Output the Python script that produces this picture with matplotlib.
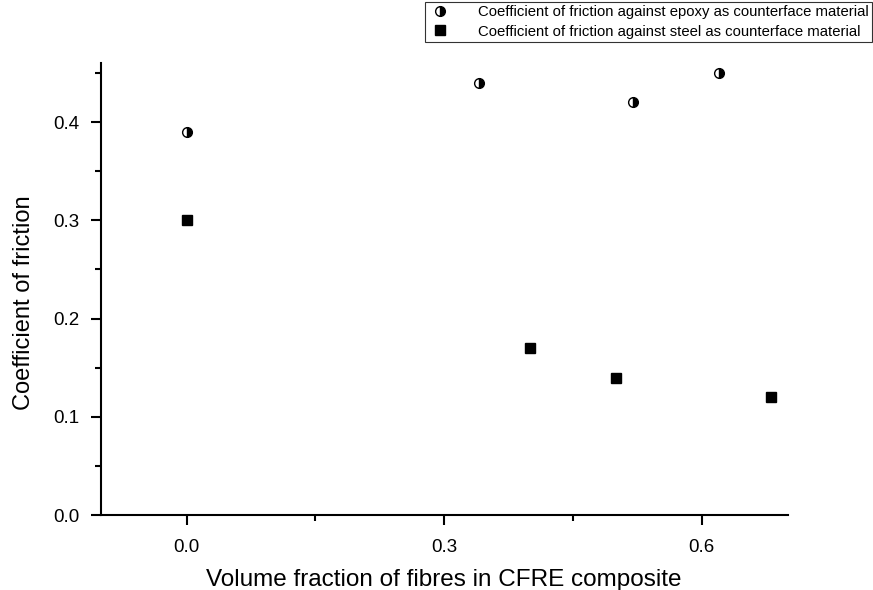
import matplotlib
matplotlib.use("Agg")
import matplotlib.pyplot as plt
from matplotlib.ticker import MultipleLocator

plt.rcParams['font.family'] = ['Liberation Sans', 'DejaVu Sans']

# volume fraction of fibres
epoxy_x = [0.0, 0.34, 0.52, 0.62]
epoxy_mu = [0.39, 0.44, 0.42, 0.45]
steel_x = [0.0, 0.40, 0.50, 0.68]
steel_mu = [0.30, 0.17, 0.14, 0.12]

fig = plt.figure(figsize=(8.73, 5.90), dpi=100)
ax = fig.add_axes([0.1153, 0.127, 0.787, 0.766])

ax.plot(epoxy_x, epoxy_mu, linestyle='none', marker='o', markersize=7,
        fillstyle='right', color='black', markerfacecoloralt='white',
        markeredgewidth=1.0,
        label='Coefficient of friction against epoxy as counterface material')
ax.plot(steel_x, steel_mu, linestyle='none', marker='s', markersize=7,
        color='black',
        label='Coefficient of friction against steel as counterface material')

ax.set_xlim(-0.1, 0.7)
ax.set_ylim(0.0, 0.46)
ax.xaxis.set_minor_locator(MultipleLocator(0.15))
ax.yaxis.set_major_locator(MultipleLocator(0.1))
ax.yaxis.set_minor_locator(MultipleLocator(0.05))
ax.set_xticks([0.0, 0.3, 0.6])
ax.set_xticklabels(['0.0', '0.3', '0.6'])

for s in ['top', 'right']:
    ax.spines[s].set_visible(False)
for s in ['left', 'bottom']:
    ax.spines[s].set_linewidth(1.5)
ax.tick_params(which='major', direction='out', length=7, width=1.5, labelsize=13.5)
ax.tick_params(axis='x', which='major', pad=10)
ax.tick_params(axis='y', which='major', pad=8)
ax.tick_params(which='minor', direction='out', length=4, width=1.5)

ax.set_xlabel('Volume fraction of fibres in CFRE composite', fontsize=17.5)
ax.set_ylabel('Coefficient of friction', fontsize=17)
ax.xaxis.set_label_coords(0.5, -0.12)
ax.yaxis.set_label_coords(-0.095, 0.47)

leg = fig.legend(loc='upper right', bbox_to_anchor=(0.999, 0.997), fontsize=10.7,
                 frameon=True, fancybox=False, edgecolor='black',
                 handletextpad=1.8, borderpad=0.25, labelspacing=0.35,
                 handlelength=1.5, borderaxespad=0)
leg.get_frame().set_linewidth(0.8)

fig.savefig('out.png', dpi=100)
